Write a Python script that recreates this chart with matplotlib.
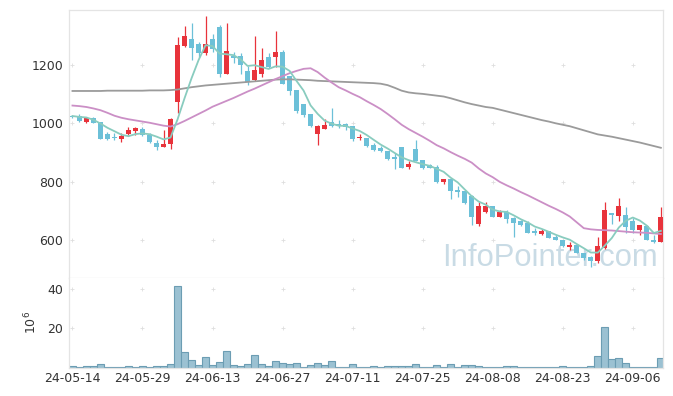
import numpy as np
import pandas as pd
from matplotlib import pyplot as plt

# daily candles, index 0 = 24-05-14 ... 84 = 24-09-12
open_ = [1025, 1025, 1006, 1018, 1003, 963, 952, 946, 963, 975,
         981, 960, 934, 919, 930, 1074, 1265, 1289, 1272, 1240,
         1289, 1331, 1171, 1232, 1231, 1179, 1149, 1170, 1229, 1229,
         1245, 1162, 1114, 1066, 1032, 963, 981, 1005, 998, 998,
         991, 948, 951, 926, 914, 905, 883, 918, 850, 912,
         873, 857, 849, 798, 808, 770, 769, 752, 655, 694,
         716, 680, 697, 674, 663, 657, 632, 619, 632, 611,
         598, 577, 583, 554, 540, 529, 571, 691, 683, 686,
         663, 634, 648, 600, 591]
high = [1030, 1031, 1019, 1020, 1003, 969, 966, 966, 986, 989,
        989, 966, 943, 977, 1017, 1297, 1333, 1346, 1280, 1368,
        1306, 1337, 1346, 1246, 1240, 1197, 1300, 1260, 1240, 1316,
        1250, 1162, 1114, 1066, 1032, 994, 1016, 1051, 1010, 1000,
        991, 962, 951, 934, 922, 905, 897, 918, 872, 943,
        873, 859, 857, 809, 808, 784, 769, 754, 731, 731,
        716, 703, 703, 680, 669, 663, 640, 638, 632, 615,
        598, 591, 586, 554, 543, 611, 729, 691, 743, 714,
        674, 651, 651, 617, 712]
low = [1017, 1006, 1002, 1000, 947, 944, 942, 936, 959, 960,
       955, 931, 908, 917, 911, 1034, 1262, 1217, 1229, 1234,
       1246, 1160, 1169, 1208, 1171, 1132, 1146, 1158, 1189, 1194,
       1135, 1097, 1034, 1020, 989, 925, 980, 989, 983, 976,
       941, 943, 920, 906, 903, 874, 843, 846, 842, 871,
       843, 846, 794, 790, 739, 748, 723, 651, 646, 692,
       678, 680, 657, 611, 646, 623, 617, 617, 606, 598,
       577, 566, 554, 531, 508, 522, 569, 655, 663, 623,
       623, 617, 598, 588, 591]
close = [1020, 1009, 1018, 1002, 947, 947, 950, 958, 977, 983,
         959, 936, 917, 929, 1015, 1269, 1300, 1260, 1240, 1272,
         1254, 1171, 1248, 1225, 1200, 1141, 1183, 1217, 1192, 1245,
         1135, 1111, 1043, 1027, 991, 991, 994, 991, 992, 988,
         946, 952, 922, 909, 906, 878, 876, 847, 861, 870,
         845, 847, 797, 808, 769, 765, 726, 680, 716, 717,
         680, 694, 672, 657, 651, 625, 623, 631, 608, 600,
         580, 583, 556, 537, 526, 579, 703, 686, 717, 643,
         634, 651, 598, 591, 680]
# closes before the window, needed for the 5-day average
prior_close = [1024, 1028, 1042, 1011]

# 20 and 60 day averages
ma20 = [1061, 1059, 1056, 1051, 1045, 1036, 1026, 1019, 1014, 1010,
        1006, 1002, 997, 992, 989, 997, 1008, 1020, 1032, 1044,
        1057, 1067, 1077, 1087, 1098, 1109, 1119, 1130, 1141, 1152,
        1162, 1172, 1180, 1187, 1189, 1176, 1157, 1140, 1124, 1113,
        1101, 1090, 1076, 1063, 1049, 1032, 1014, 995, 980, 967,
        954, 940, 925, 914, 901, 889, 878, 865, 845, 828,
        815, 799, 787, 776, 764, 753, 741, 729, 717, 706,
        694, 680, 660, 640, 636, 634, 633, 632, 630, 628,
        626, 625, 624, 622, 620]
ma60 = [1111, 1111, 1111, 1111, 1111, 1112, 1112, 1112, 1112, 1112,
        1112, 1113, 1113, 1113, 1114, 1116, 1120, 1124, 1127, 1130,
        1132, 1134, 1136, 1138, 1140, 1142, 1144, 1146, 1148, 1150,
        1151, 1151, 1150, 1149, 1148, 1146, 1145, 1144, 1143, 1142,
        1141, 1140, 1139, 1138, 1136, 1131, 1122, 1112, 1106, 1103,
        1101, 1098, 1095, 1092, 1086, 1079, 1072, 1066, 1061, 1056,
        1053, 1047, 1041, 1035, 1029, 1023, 1017, 1011, 1006, 1000,
        995, 990, 983, 976, 969, 962, 958, 954, 949, 944,
        939, 934, 928, 922, 916]

# volume, millions of shares
volume = [0.7, 0.35, 0.7, 0.7, 1.7, 0.2, 0.2, 0.2, 0.7, 0.35,
          0.7, 0.2, 0.7, 0.7, 1.7, 41.5, 8.0, 3.8, 1.4, 5.4,
          1.2, 2.8, 8.5, 1.2, 0.8, 2.0, 6.3, 2.0, 1.0, 3.2,
          2.3, 1.7, 2.3, 0.5, 1.5, 2.2, 1.2, 3.2, 0.5, 0.5,
          2.0, 0.5, 0.5, 1.0, 0.5, 1.0, 1.0, 1.0, 1.0, 2.0,
          0.5, 0.2, 1.5, 0.5, 2.0, 0.5, 1.5, 1.5, 1.0, 0.5,
          0.5, 0.2, 1.0, 1.0, 0.5, 0.5, 0.5, 0.5, 0.5, 0.5,
          1.0, 0.3, 0.3, 0.3, 1.0, 5.6, 20.5, 4.1, 5.0, 2.1,
          0.3, 0.3, 0.3, 0.3, 5.0]

tick_labels = ['24-05-14', '24-05-29', '24-06-13', '24-06-27', '24-07-11',
               '24-07-25', '24-08-08', '24-08-23', '24-09-06']

UP = '#e8333b'
DOWN = '#6cc0d8'
GRID = '#dedede'
SPINE = '#e4e4e4'

plt.rcParams['font.family'] = ['DejaVu Sans']

o = np.array(open_)
c = np.array(close)
x = np.arange(len(c))
ma5 = pd.Series(prior_close + close).rolling(5).mean().to_numpy()[len(prior_close):]

fig = plt.figure(figsize=(6.73, 3.96), dpi=100)
W, H = 673., 396.
ax = fig.add_axes([69.3 / W, 1 - 277.7 / H, 594 / W, 267.7 / H])
axv = fig.add_axes([69.3 / W, 1 - 367.5 / H, 594 / W, 89.8 / H], sharex=ax)

# watermark behind everything
ax.text(0.99, 0.044, 'InfoPointer.com', transform=ax.transAxes, ha='right',
        va='baseline', fontsize=22.3, family='Liberation Sans',
        color='#bcd3df', alpha=0.8, zorder=0)

# candles
colors = [UP if cc >= oo else DOWN for oo, cc in zip(o, c)]
ax.vlines(x, low, high, colors=colors, linewidth=0.9, zorder=2)
body = np.maximum(np.abs(c - o), 2.5)
ax.bar(x, body, bottom=np.minimum(o, c), width=0.68, color=colors,
       linewidth=0, zorder=3)

# moving averages
ax.plot(x, ma60, color='#9b9b9b', lw=1.3, zorder=4)
ax.plot(x, ma20, color='#cb8fc6', lw=1.3, zorder=4)
ax.plot(x, ma5, color='#89ccbf', lw=1.3, zorder=4)

# volume
axv.bar(x, volume, width=1.0, color='#9bc1d2', edgecolor='#6c9db3',
        linewidth=0.8, zorder=2)

ax.set_xlim(-0.45, 84.35)
ax.set_ylim(470, 1389)
axv.set_ylim(0, 45.5)

ax.set_yticks([600, 800, 1000, 1200])
axv.set_yticks([20, 40])
xt = np.arange(0, len(c), 10)
axv.set_xticks(xt)
axv.set_xticklabels(tick_labels)
ax.tick_params(axis='x', labelbottom=False)

for a in (ax, axv):
    a.tick_params(length=0, labelsize=9, colors='#333333', pad=4.5)
    for s in a.spines.values():
        s.set_color(SPINE)
        s.set_linewidth(0.9)
    gx, gy = np.meshgrid(a.get_xticks(), a.get_yticks())
    a.plot(gx.ravel(), gy.ravel(), '+', color=GRID, ms=3.5, mew=0.6, zorder=1)
axv.spines['top'].set_visible(False)
axv.tick_params(axis='x', pad=3.5)

axv.set_ylabel(r'$10^6$', fontsize=9, color='#333333', labelpad=6)

fig.savefig('out.png', dpi=100)
